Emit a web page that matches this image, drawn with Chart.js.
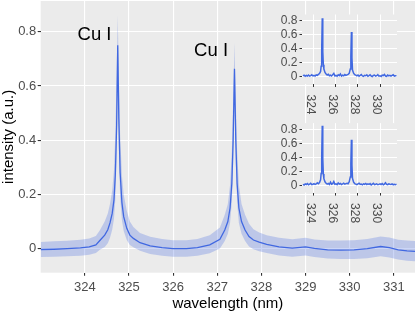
<!DOCTYPE html>
<html>
<head>
<meta charset="utf-8">
<script src="https://cdn.jsdelivr.net/npm/chart.js"></script>
<style>
body { margin: 0; background: #fff; }
#wrap { position: relative; width: 415px; height: 312px; }
canvas { position: absolute; }
</style>
</head>
<body>
<div id="wrap">
  <canvas id="main" width="415" height="312" style="left:0px;top:0px"></canvas>
  <canvas id="inset1" width="130" height="116" style="left:272px;top:4px"></canvas>
  <canvas id="inset2" width="130" height="116" style="left:272px;top:113px"></canvas>
</div>

<script>
// main spectrum (mean + band)
const wavelength = [323.00, 323.30, 323.60, 323.90, 324.10, 324.25, 324.34, 324.45, 324.52, 324.57,
  324.62, 324.66, 324.69, 324.72, 324.745, 324.77, 324.80, 324.84, 324.88, 324.95,
  325.02, 325.10, 325.25, 325.48, 325.75, 326.00, 326.30, 326.55, 326.83, 327.06,
  327.17, 327.24, 327.29, 327.33, 327.36, 327.39, 327.42, 327.45, 327.49, 327.55,
  327.63, 327.72, 327.82, 327.95, 328.12, 328.40, 328.70, 329.00, 329.20, 329.50,
  329.80, 330.10, 330.40, 330.70, 330.90, 331.10, 331.30, 331.48];
const intensity = [-0.003, -0.002, 0.000, 0.003, 0.007, 0.014, 0.030, 0.050, 0.070, 0.095,
  0.130, 0.180, 0.270, 0.450, 0.750, 0.480, 0.280, 0.170, 0.118, 0.075,
  0.050, 0.038, 0.022, 0.010, 0.004, 0.000, 0.000, 0.004, 0.014, 0.035,
  0.069, 0.100, 0.150, 0.240, 0.400, 0.663, 0.400, 0.240, 0.150, 0.100,
  0.069, 0.045, 0.032, 0.024, 0.016, 0.007, 0.002, 0.007, 0.001, -0.004,
  -0.005, -0.004, 0.000, 0.008, 0.004, -0.004, -0.008, -0.010];
const bandLow = [-0.031, -0.030, -0.028, -0.026, -0.022, -0.016, -0.004, 0.006, 0.020, 0.040,
  0.070, 0.110, 0.180, 0.340, 0.640, 0.370, 0.190, 0.105, 0.065, 0.032,
  0.014, 0.005, -0.008, -0.020, -0.026, -0.030, -0.030, -0.026, -0.017, 0.001,
  0.028, 0.055, 0.095, 0.170, 0.310, 0.580, 0.310, 0.170, 0.095, 0.055,
  0.028, 0.008, -0.002, -0.009, -0.016, -0.025, -0.030, -0.025, -0.031, -0.036,
  -0.038, -0.038, -0.035, -0.028, -0.032, -0.040, -0.044, -0.046];
const bandHigh = [0.025, 0.027, 0.029, 0.033, 0.038, 0.047, 0.068, 0.100, 0.130, 0.165,
  0.215, 0.290, 0.420, 0.640, 0.860, 0.650, 0.420, 0.270, 0.200, 0.140,
  0.100, 0.080, 0.058, 0.044, 0.036, 0.031, 0.031, 0.036, 0.050, 0.078,
  0.125, 0.165, 0.235, 0.360, 0.540, 0.760, 0.540, 0.360, 0.235, 0.165,
  0.125, 0.092, 0.072, 0.060, 0.050, 0.040, 0.035, 0.040, 0.034, 0.030,
  0.030, 0.031, 0.036, 0.045, 0.041, 0.033, 0.030, 0.028];

const xTicks = [324, 325, 326, 327, 328, 329, 330, 331];
const yTicks = [0, 0.2, 0.4, 0.6, 0.8];

const peakLabels = ['Cu I', 'Cu I'];
const peakLabelX = [324.22, 326.86];
const peakLabelY = [0.769, 0.710];

// insets: single noisy spectra
const insetX = [323.0, 323.1, 323.2, 323.3, 323.4, 323.5, 323.6, 323.7, 323.8, 323.9,
  324.0, 324.1, 324.2, 324.3, 324.4, 324.5, 324.6, 324.65, 324.7, 324.75, 324.8, 324.85, 324.9,
  325.0, 325.1, 325.2, 325.3, 325.4, 325.5, 325.6, 325.7, 325.8, 325.9,
  326.0, 326.1, 326.2, 326.3, 326.4, 326.5, 326.6, 326.7, 326.8, 326.9,
  327.0, 327.1, 327.2, 327.3, 327.35, 327.4, 327.45, 327.5, 327.6, 327.7, 327.8, 327.9,
  328.0, 328.1, 328.2, 328.3, 328.4, 328.5, 328.6, 328.7, 328.8, 328.9,
  329.0, 329.1, 329.2, 329.3, 329.4, 329.5, 329.6, 329.7, 329.8, 329.9,
  330.0, 330.1, 330.2, 330.3, 330.4, 330.5, 330.6, 330.7, 330.8, 330.9,
  331.0, 331.1, 331.2, 331.3, 331.4, 331.5];
const inset1Y = [0.012, 0.022, 0.006, 0.018, 0.010, 0.024, 0.008, 0.016, 0.027, 0.011,
  0.018, 0.009, 0.026, 0.020, 0.034, 0.046, 0.075, 0.150, 0.380, 0.835, 0.360, 0.170, 0.110,
  0.062, 0.040, 0.025, 0.034, 0.014, 0.022, 0.010, 0.030, 0.048, 0.012,
  0.020, 0.007, 0.028, 0.015, 0.040, 0.010, 0.022, 0.013, 0.030, 0.018,
  0.026, 0.034, 0.048, 0.110, 0.300, 0.640, 0.270, 0.095, 0.050, 0.030, 0.022, 0.012,
  0.025, 0.008, 0.018, 0.030, 0.012, 0.004, 0.020, 0.014, 0.026, 0.006,
  0.016, 0.028, 0.010, 0.003, 0.019, 0.024, 0.008, 0.015, 0.030, 0.009,
  0.014, 0.004, 0.022, 0.017, 0.032, 0.010, 0.006, 0.025, 0.012, 0.020,
  0.008, 0.018, 0.028, 0.010, 0.015, 0.012];
const inset2Y = [0.015, 0.005, 0.020, 0.012, 0.026, 0.008, 0.018, 0.030, 0.010, 0.016,
  0.024, 0.012, 0.020, 0.035, 0.022, 0.040, 0.080, 0.170, 0.400, 0.850, 0.380, 0.160, 0.095,
  0.050, 0.030, 0.018, 0.028, 0.012, 0.045, 0.016, 0.024, 0.055, 0.014,
  0.020, 0.010, 0.035, 0.018, 0.026, 0.012, 0.020, 0.030, 0.016, 0.025,
  0.030, 0.022, 0.050, 0.120, 0.320, 0.650, 0.290, 0.100, 0.045, 0.025, 0.018, 0.010,
  0.020, 0.030, 0.012, 0.018, 0.008, 0.022, 0.015, 0.026, 0.010, 0.020,
  0.012, 0.024, 0.006, 0.018, 0.030, 0.010, 0.015, 0.022, 0.008, 0.014,
  0.020, 0.012, 0.026, 0.008, 0.018, 0.036, 0.014, 0.010, 0.022, 0.016,
  0.012, 0.020, 0.008, 0.016, 0.010, 0.014];
const insetXTicks = [324, 326, 328, 330];
const insetYTicks = [0, 0.2, 0.4, 0.6, 0.8];

Chart.defaults.font.family = '"Liberation Sans", Arial, sans-serif';
Chart.defaults.animation = false;

const BLUE = '#4169E1';
const PANEL = '#EBEBEB';
const TICKCOL = '#4D4D4D';

function fmt(v) { return v === 0 ? '0' : v.toFixed(1); }
function pts(xs, ys) { return xs.map((x, i) => ({ x: x, y: ys[i] })); }
// chart.js reserves room for half a tick label at the ends, drop that
function noPad(s) { s.paddingTop = 0; s.paddingBottom = 0; s.paddingLeft = 0; s.paddingRight = 0; }

const panelBg = {
  id: 'panelBg',
  beforeDraw(chart) {
    const a = chart.chartArea, ctx = chart.ctx;
    ctx.save();
    ctx.fillStyle = PANEL;
    ctx.fillRect(a.left, a.top, a.right - a.left, a.bottom - a.top);
    ctx.restore();
  }
};

const mainText = {
  id: 'mainText',
  afterDraw(chart) {
    const ctx = chart.ctx, a = chart.chartArea;
    const xs = chart.scales.x, ys = chart.scales.y;
    ctx.save();
    ctx.fillStyle = '#000';
    ctx.font = '18.5px "Liberation Sans", Arial, sans-serif';
    ctx.textAlign = 'center';
    ctx.textBaseline = 'alphabetic';
    peakLabels.forEach((t, i) => {
      ctx.fillText(t, xs.getPixelForValue(peakLabelX[i]), ys.getPixelForValue(peakLabelY[i]));
    });
    ctx.font = '15px "Liberation Sans", Arial, sans-serif';
    ctx.textBaseline = 'middle';
    ctx.fillText('wavelength (nm)', (a.left + a.right) / 2, 303.5);
    ctx.translate(9, (a.top + a.bottom) / 2);
    ctx.rotate(-Math.PI / 2);
    ctx.fillText('intensity (a.u.)', 0, 0);
    ctx.restore();
  }
};

new Chart(document.getElementById('main'), {
  type: 'line',
  data: {
    datasets: [{
      data: pts(wavelength, bandLow),
      borderWidth: 0,
      pointRadius: 0,
      fill: false
    }, {
      data: pts(wavelength, bandHigh),
      borderWidth: 0,
      pointRadius: 0,
      backgroundColor: 'rgba(65,105,225,0.27)',
      fill: '-1'
    }, {
      data: pts(wavelength, intensity),
      borderColor: BLUE,
      borderWidth: 1.3,
      pointRadius: 0,
      fill: false
    }]
  },
  options: {
    responsive: false,
    layout: { padding: { top: 1, right: 0, left: 0, bottom: 0 } },
    plugins: { legend: { display: false }, tooltip: { enabled: false } },
    scales: {
      x: {
        type: 'linear',
        min: 323.0,
        max: 331.48,
        afterBuildTicks: s => { s.ticks = xTicks.map(v => ({ value: v })); },
        afterFit: s => { s.height = 39.3; noPad(s); },
        grid: { color: '#fff', lineWidth: 1.1, tickColor: '#333', tickLength: 3 },
        border: { display: false },
        ticks: { color: TICKCOL, font: { size: 13 }, padding: 3.5, maxRotation: 0, autoSkip: false, callback: v => String(v) }
      },
      y: {
        min: -0.0885,
        max: 0.9132,
        afterBuildTicks: s => { s.ticks = yTicks.map(v => ({ value: v })); },
        afterFit: s => { s.width = 40.7; noPad(s); },
        grid: { color: '#fff', lineWidth: 1.1, tickColor: '#333', tickLength: 3 },
        border: { display: false },
        ticks: { color: TICKCOL, font: { size: 13 }, padding: 1.5, autoSkip: false, callback: v => fmt(v) }
      }
    }
  },
  plugins: [panelBg, mainText]
});

const insetLabels = {
  id: 'insetLabels',
  afterDraw(chart) {
    const ctx = chart.ctx, a = chart.chartArea, xs = chart.scales.x;
    ctx.save();
    ctx.fillStyle = TICKCOL;
    ctx.font = '12px "Liberation Sans", Arial, sans-serif';
    ctx.textAlign = 'left';
    ctx.textBaseline = 'middle';
    insetXTicks.forEach(v => {
      ctx.save();
      ctx.translate(xs.getPixelForValue(v) - 3.5, a.bottom + 10.5);
      ctx.rotate(Math.PI / 2);
      ctx.fillText(String(v), 0, 0);
      ctx.restore();
    });
    ctx.restore();
  }
};

function makeInset(id, ys, padTop, xHeight) {
  return new Chart(document.getElementById(id), {
    type: 'line',
    data: {
      datasets: [{
        data: pts(insetX, ys),
        borderColor: BLUE,
        borderWidth: 1.5,
        pointRadius: 0,
        fill: false
      }]
    },
    options: {
      responsive: false,
      layout: { padding: { top: padTop, right: 5, left: 0, bottom: 0 } },
      plugins: { legend: { display: false }, tooltip: { enabled: false } },
      scales: {
        x: {
          type: 'linear',
          min: 322.91,
          max: 331.545,
          afterBuildTicks: s => { s.ticks = insetXTicks.map(v => ({ value: v })); },
          afterFit: s => { s.height = xHeight; noPad(s); },
          grid: { color: '#fff', lineWidth: 1, tickColor: '#333', tickLength: 3 },
          border: { display: false },
          ticks: { display: false }
        },
        y: {
          min: -0.104,
          max: 0.889,
          afterBuildTicks: s => { s.ticks = insetYTicks.map(v => ({ value: v })); },
          afterFit: s => { s.width = 30; noPad(s); },
          grid: { color: '#fff', lineWidth: 1, tickColor: '#333', tickLength: 2.5 },
          border: { display: false },
          ticks: { color: TICKCOL, font: { size: 12 }, padding: 2, autoSkip: false, callback: v => fmt(v) }
        }
      }
    },
    plugins: [panelBg, insetLabels]
  });
}

makeInset('inset1', inset1Y, 10.5, 36);
makeInset('inset2', inset2Y, 10.1, 36.4);
</script>
</body>
</html>
